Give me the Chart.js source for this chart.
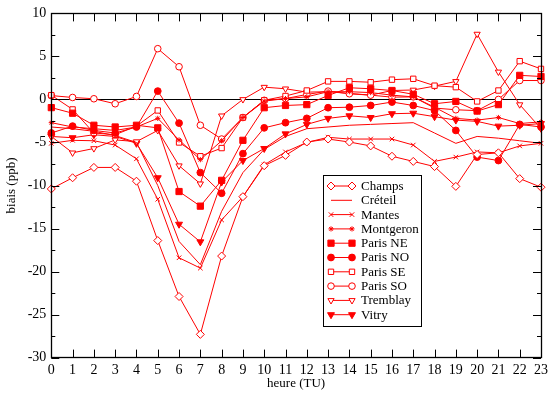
<!DOCTYPE html>
<html>
<head>
<meta charset="utf-8">
<script src="https://cdn.jsdelivr.net/npm/chart.js@4/dist/chart.umd.min.js"></script>
<style>
  html, body { margin: 0; padding: 0; background: #fff; }
  canvas { display: block; }
</style>
</head>
<body>
<canvas id="chart" width="552" height="394"></canvas>
<script>
// Hourly bias (ppb) per station
const hours = [0, 1, 2, 3, 4, 5, 6, 7, 8, 9, 10, 11, 12, 13, 14, 15, 16, 17, 18, 19, 20, 21, 22, 23];

const champs    = [-10.4, -9.1, -7.9, -7.9, -9.5, -16.4, -22.9, -27.3, -18.2, -11.3, -7.7, -6.5, -4.95, -4.6, -4.95, -5.4, -6.6, -7.2, -7.8, -10.1, -6.4, -6.2, -9.2, -10.2];
const creteil   = [-3.2, -3.4, -3.7, -4.2, -5.0, -10.0, -16.5, -19.2, -13.0, -8.5, -5.8, -4.3, -3.4, -3.2, -3.0, -2.9, -2.8, -2.7, -3.9, -5.1, -4.3, -4.5, -4.8, -5.1];
const mantes    = [-5.1, -4.75, -4.8, -5.3, -6.9, -11.6, -18.4, -19.6, -14.0, -11.3, -7.6, -6.1, -5.0, -4.4, -4.6, -4.6, -4.6, -5.3, -7.2, -6.7, -6.1, -6.2, -5.4, -5.1];
const montgeron = [-2.7, -3.2, -3.4, -3.6, -3.2, -2.2, -4.7, -7.0, -4.8, -2.1, -0.2, 0.1, 0.3, 0.9, 0.9, 0.8, 0.5, 0.3, -0.9, -2.2, -2.4, -2.1, -2.8, -2.6];
const parisNE   = [-0.95, -1.6, -3.0, -3.2, -3.0, -3.3, -10.7, -12.4, -9.4, -4.75, -0.96, -0.7, -0.6, 0.46, 1.36, 1.24, 1.04, 0.6, -0.5, -0.23, -1.35, -0.6, 2.8, 2.67];
const parisNO   = [-3.9, -3.1, -3.6, -3.9, -3.2, 0.97, -2.75, -8.5, -10.9, -6.3, -3.3, -2.7, -2.2, -0.96, -0.9, -0.7, -0.3, -0.7, -1.3, -3.6, -6.7, -7.1, -2.9, -3.2];
const parisSE   = [0.5, -1.16, -3.9, -4.1, -3.1, -1.28, -5.0, -6.6, -5.65, -2.1, -0.1, 0.4, 1.04, 2.1, 2.1, 2.0, 2.3, 2.4, 1.6, 1.43, -0.23, 1.04, 4.45, 3.55];
const parisSO   = [0.45, 0.23, 0.08, -0.5, 0.35, 5.9, 3.8, -3.0, -4.6, -2.1, -0.1, 0.1, 0.58, 0.97, 0.66, 0.5, 0.27, 0.3, -1.0, -1.2, -1.3, 0.0, 2.2, 2.2];
const tremblay  = [-4.3, -6.2, -5.7, -4.7, -4.9, -3.6, -7.7, -9.8, -1.9, 0.0, 1.43, 1.24, 0.85, 0.9, 0.7, 0.5, 1.04, 1.1, 1.55, 2.1, 7.6, 3.2, -0.6, -3.4];
const vitry     = [-4.3, -4.45, -4.1, -4.3, -5.1, -9.1, -14.5, -16.55, -9.6, -7.1, -5.7, -4.0, -2.9, -2.2, -1.9, -2.1, -1.66, -1.6, -2.0, -2.4, -2.55, -3.1, -3.0, -2.8];

const yTicks = [-30, -25, -20, -15, -10, -5, 0, 5, 10];

const RED = '#ff0000';
const SERIF = '"Liberation Serif", "DejaVu Serif", serif';

// marker look per station
const series = [
  { name: 'Champs',    data: champs,    style: 'rectRot',  r: 4,   fill: false },
  { name: 'Créteil',   data: creteil,   style: false,      r: 0,   fill: false },
  { name: 'Mantes',    data: mantes,    style: 'crossRot', r: 3.2, fill: true },
  { name: 'Montgeron', data: montgeron, style: 'star',     r: 2.6, fill: true },
  { name: 'Paris NE',  data: parisNE,   style: 'rect',     r: 4.4, fill: true },
  { name: 'Paris NO',  data: parisNO,   style: 'circle',   r: 3.4, fill: true },
  { name: 'Paris SE',  data: parisSE,   style: 'rect',     r: 3.8, fill: false },
  { name: 'Paris SO',  data: parisSO,   style: 'circle',   r: 3.3, fill: false },
  { name: 'Tremblay',  data: tremblay,  style: 'triangle', r: 3.6, fill: false, rot: 180 },
  { name: 'Vitry',     data: vitry,     style: 'triangle', r: 4,   fill: true,  rot: 180 },
];

const datasets = series.map(s => ({
  label: s.name,
  data: s.data.map((v, i) => ({ x: hours[i], y: v })),
  borderColor: RED,
  borderWidth: 1,
  pointStyle: s.style,
  pointRadius: s.r,
  pointRotation: s.rot || 0,
  pointBorderWidth: 1,
  pointBorderColor: RED,
  pointBackgroundColor: s.fill ? RED : '#ffffff',
  tension: 0,
  clip: false,
}));

// zero line, frame with inward ticks
const framePlugin = {
  id: 'frame',
  beforeDatasetsDraw(chart) {
    const { ctx, chartArea: a, scales: { y } } = chart;
    const py = Math.round(y.getPixelForValue(0)) + 0.5;
    ctx.save();
    ctx.strokeStyle = '#000';
    ctx.lineWidth = 1;
    ctx.beginPath();
    ctx.moveTo(a.left, py);
    ctx.lineTo(a.right, py);
    ctx.stroke();
    ctx.restore();
  },
  afterDatasetsDraw(chart) {
    const { ctx, chartArea: a, scales: { x, y } } = chart;
    ctx.save();
    ctx.strokeStyle = '#000';
    ctx.lineWidth = 1;
    ctx.beginPath();
    hours.forEach(h => {
      const px = Math.round(x.getPixelForValue(h)) + 0.5;
      ctx.moveTo(px, a.bottom); ctx.lineTo(px, a.bottom - 8);
      ctx.moveTo(px, a.top);    ctx.lineTo(px, a.top + 8);
    });
    yTicks.forEach((v, i) => {
      const py = Math.round(y.getPixelForValue(v)) + 0.5;
      ctx.moveTo(a.left, py);  ctx.lineTo(a.left + 8, py);
      ctx.moveTo(a.right, py); ctx.lineTo(a.right - 8, py);
      if (i < yTicks.length - 1) {
        const pm = Math.round(y.getPixelForValue(v + 2.5)) + 0.5;
        ctx.moveTo(a.left, pm);  ctx.lineTo(a.left + 4, pm);
        ctx.moveTo(a.right, pm); ctx.lineTo(a.right - 4, pm);
      }
    });
    ctx.stroke();
    ctx.lineWidth = 1.3;
    ctx.strokeRect(Math.round(a.left) + 0.5, Math.round(a.top) + 0.5,
                   Math.round(a.right - a.left), Math.round(a.bottom - a.top));
    ctx.restore();
  },
  afterDraw(chart) {
    // boxed legend inside the plot
    const ctx = chart.ctx;
    const bx = 323.5, by = 175.5, bw = 98, bh = 151;
    ctx.save();
    ctx.fillStyle = '#fff';
    ctx.fillRect(bx, by, bw, bh);
    ctx.strokeStyle = '#000';
    ctx.lineWidth = 1;
    ctx.strokeRect(bx, by, bw, bh);
    ctx.font = '13px ' + SERIF;
    ctx.textBaseline = 'middle';
    series.forEach((s, i) => {
      const yy = 186 + i * 14.3;
      ctx.strokeStyle = RED;
      ctx.lineWidth = 1;
      ctx.beginPath();
      ctx.moveTo(331, yy); ctx.lineTo(352, yy);
      ctx.stroke();
      if (s.style) {
        [331, 352].forEach(xx => {
          ctx.fillStyle = s.fill ? RED : '#fff';
          ctx.strokeStyle = RED;
          Chart.helpers.drawPoint(ctx, { pointStyle: s.style, radius: s.r, rotation: s.rot || 0, borderWidth: 1 }, xx, yy);
        });
      }
      ctx.fillStyle = '#000';
      ctx.fillText(s.name, 361, yy + 0.5);
    });
    ctx.restore();
  }
};

new Chart(document.getElementById('chart'), {
  type: 'line',
  data: { datasets },
  options: {
    responsive: false,
    animation: false,
    layout: { padding: { top: 12.5, right: 5.5, left: 0, bottom: 0 } },
    plugins: { legend: { display: false }, tooltip: { enabled: false } },
    scales: {
      x: {
        type: 'linear',
        min: 0, max: 23,
        afterFit: s => { s.height = 36.4; },
        grid: { display: false, drawTicks: false },
        border: { display: false },
        ticks: { stepSize: 1, padding: 4, color: '#000', font: { family: SERIF, size: 14 } },
        title: { display: true, text: 'heure (TU)', color: '#000', padding: { top: 0, bottom: 3 }, font: { family: SERIF, size: 13 } },
      },
      y: {
        min: -30, max: 10,
        afterFit: s => { s.width = 51.3; },
        afterBuildTicks: s => { s.ticks = yTicks.map(v => ({ value: v })); },
        grid: { display: false, drawTicks: false },
        border: { display: false },
        ticks: { padding: 5, color: '#000', font: { family: SERIF, size: 14 } },
        title: { display: true, text: 'biais (ppb)', color: '#000', padding: { top: 4, bottom: 0 }, font: { family: SERIF, size: 13 } },
      }
    }
  },
  plugins: [framePlugin]
});
</script>
</body>
</html>
